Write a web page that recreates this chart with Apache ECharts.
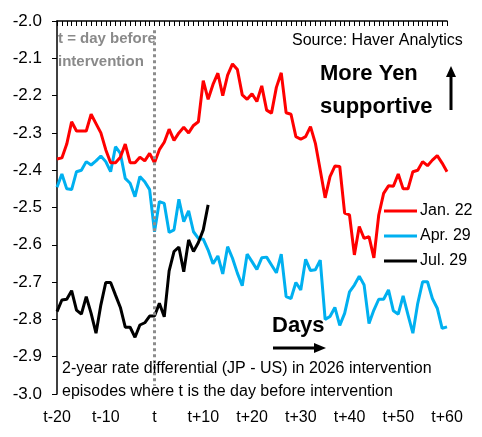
<!DOCTYPE html>
<html lang="en">
<head>
    <meta charset="UTF-8">
    <title>2-year rate differential around intervention</title>
    <script src="https://cdn.jsdelivr.net/npm/echarts@6/dist/echarts.min.js"></script>
    <style>
        html, body { margin: 0; padding: 0; background: #fff; }
        #chart { width: 482px; height: 437px; }
    </style>
</head>
<body>
    <div id="chart"></div>
    <script type="text/javascript">
        // days relative to t (day before intervention)
        var days = [];
        for (var d = -20; d <= 60; d++) days.push(d);

        // Jan. 22 episode, t-20 .. t+60
        var jan22 = [
            -2.370, -2.367, -2.330, -2.270, -2.295, -2.295, -2.295, -2.250, -2.275, -2.300,
            -2.345, -2.380, -2.380, -2.365, -2.330, -2.380, -2.380, -2.365, -2.375, -2.355,
            -2.380, -2.345, -2.325, -2.290, -2.320, -2.300, -2.285, -2.300, -2.280, -2.270,
            -2.160, -2.210, -2.170, -2.140, -2.200, -2.145, -2.115, -2.130, -2.198, -2.210,
            -2.195, -2.216, -2.174, -2.239, -2.247, -2.178, -2.139, -2.246, -2.250, -2.310,
            -2.317, -2.310, -2.283, -2.328, -2.400, -2.474, -2.417, -2.389, -2.390, -2.515,
            -2.520, -2.627, -2.551, -2.583, -2.578, -2.635, -2.520, -2.462, -2.442, -2.443,
            -2.410, -2.450, -2.450, -2.404, -2.400, -2.377, -2.388, -2.373, -2.361, -2.381,
            -2.404
        ];
        // Apr. 29 episode
        var apr29 = [
            -2.446, -2.410, -2.450, -2.452, -2.404, -2.400, -2.377, -2.386, -2.375, -2.362,
            -2.377, -2.404, -2.337, -2.355, -2.422, -2.435, -2.471, -2.417, -2.431, -2.452,
            -2.565, -2.484, -2.489, -2.567, -2.560, -2.478, -2.538, -2.509, -2.565, -2.583,
            -2.585, -2.614, -2.651, -2.630, -2.678, -2.605, -2.636, -2.676, -2.710, -2.625,
            -2.645, -2.666, -2.635, -2.633, -2.654, -2.675, -2.625, -2.739, -2.744, -2.701,
            -2.721, -2.639, -2.669, -2.667, -2.641, -2.800, -2.792, -2.768, -2.816, -2.784,
            -2.726, -2.708, -2.684, -2.708, -2.811, -2.775, -2.746, -2.746, -2.721, -2.777,
            -2.786, -2.737, -2.788, -2.837, -2.757, -2.699, -2.699, -2.744, -2.770, -2.824,
            -2.820
        ];
        // Jul. 29 episode, data up to 8/13 (t+11)
        var jul29 = [
            -2.779, -2.748, -2.746, -2.723, -2.775, -2.786, -2.739, -2.784, -2.837, -2.761,
            -2.701, -2.701, -2.735, -2.768, -2.821, -2.821, -2.848, -2.815, -2.809, -2.791,
            -2.791, -2.757, -2.793, -2.670, -2.618, -2.606, -2.672, -2.587, -2.618, -2.594,
            -2.560, -2.493
        ];
        var lastLabel = '8/13';

        function dayLabel(d) {
            d = Number(d);
            if (d === 0) return 't';
            return d > 0 ? 't+' + d : 't' + d;
        }

        var font = '"Liberation Sans", Arial, sans-serif';

        var julData = jul29.map(function (v, i) {
            if (i === jul29.length - 1) {
                return {
                    value: v,
                    label: {
                        show: true, formatter: lastLabel, position: 'top', distance: 4,
                        offset: [9, -1], fontSize: 17, fontWeight: 'bold',
                        color: '#000', fontFamily: font
                    }
                };
            }
            return v;
        });

        var myChart = echarts.init(document.getElementById('chart'));

        var option = {
            animation: false,
            backgroundColor: '#fff',
            textStyle: { fontFamily: font },
            grid: {
                left: 57, right: 35, top: 21, bottom: 43,
                containLabel: false, outerBoundsMode: 'none'
            },
            legend: {
                orient: 'vertical',
                left: 384, top: 203,
                padding: 0,
                itemGap: 9,
                icon: 'rect',
                itemWidth: 33, itemHeight: 3,
                textStyle: { fontSize: 16, color: '#000', fontFamily: font, padding: [0, 0, 0, -2] },
                data: ['Jan. 22', 'Apr. 29', 'Jul. 29']
            },
            xAxis: [
                {   // top axis: line and daily ticks
                    type: 'category',
                    position: 'top',
                    data: days,
                    boundaryGap: false,
                    axisLine: { lineStyle: { color: '#000', width: 1.5 } },
                    axisTick: { inside: true, length: 5, interval: 0, lineStyle: { color: '#000', width: 1 } },
                    axisLabel: { show: false },
                    splitLine: { show: false }
                },
                {   // bottom labels only
                    type: 'category',
                    position: 'bottom',
                    data: days,
                    boundaryGap: false,
                    axisLine: { show: false },
                    axisTick: { show: false },
                    axisLabel: {
                        interval: 9, margin: 16, fontSize: 16, color: '#000',
                        fontFamily: font, formatter: dayLabel
                    },
                    splitLine: { show: false }
                }
            ],
            yAxis: {
                type: 'value',
                min: -3, max: -2, interval: 0.1,
                axisLine: { show: true, lineStyle: { color: '#000', width: 1.5 } },
                axisTick: { show: true, length: 5, lineStyle: { color: '#000', width: 1 } },
                axisLabel: {
                    fontSize: 17, color: '#000', margin: 15, fontFamily: font,
                    formatter: function (v) { return v.toFixed(1); }
                },
                splitLine: { show: false }
            },
            series: [
                {
                    name: 'Jan. 22', type: 'line', xAxisIndex: 0, data: jan22,
                    showSymbol: false, symbol: 'none',
                    lineStyle: { color: '#ff0000', width: 3 },
                    itemStyle: { color: '#ff0000' },
                    z: 3,
                    markLine: {
                        silent: true, symbol: 'none',
                        label: { show: false },
                        lineStyle: { color: '#8c8c8c', width: 3, type: [3, 3] },
                        data: [[{ coord: ['0', -2.025] }, { coord: ['0', -2.978] }]]
                    }
                },
                {
                    name: 'Apr. 29', type: 'line', xAxisIndex: 0, data: apr29,
                    showSymbol: false, symbol: 'none',
                    lineStyle: { color: '#00b0f0', width: 3 },
                    itemStyle: { color: '#00b0f0' },
                    z: 2
                },
                {
                    name: 'Jul. 29', type: 'line', xAxisIndex: 0, data: julData,
                    showSymbol: false, symbol: 'none',
                    lineStyle: { color: '#000', width: 3 },
                    itemStyle: { color: '#000' },
                    z: 4
                }
            ],
            graphic: [
                { type: 'text', left: 58, top: 31, z: 10,
                  style: { text: 't = day before', fill: '#8a8a8a', font: 'bold 15px ' + font } },
                { type: 'text', left: 58, top: 54, z: 10,
                  style: { text: 'intervention', fill: '#8a8a8a', font: 'bold 15px ' + font } },
                { type: 'text', left: 292, top: 33, z: 10,
                  style: { text: 'Source: Haver Analytics', fill: '#000', font: '16px ' + font } },
                { type: 'text', left: 320, top: 63, z: 10,
                  style: { text: 'More Yen', fill: '#000', font: 'bold 22px ' + font } },
                { type: 'text', left: 320, top: 96, z: 10,
                  style: { text: 'supportive', fill: '#000', font: 'bold 22px ' + font } },
                // up arrow
                { type: 'line', z: 10, shape: { x1: 451, y1: 110, x2: 451, y2: 75 },
                  style: { stroke: '#000', lineWidth: 3 } },
                { type: 'polygon', z: 10, shape: { points: [[446, 77], [456, 77], [451, 66]] },
                  style: { fill: '#000' } },
                { type: 'text', left: 272, top: 315, z: 10,
                  style: { text: 'Days', fill: '#000', font: 'bold 22px ' + font } },
                // right arrow
                { type: 'line', z: 10, shape: { x1: 273, y1: 348, x2: 316, y2: 348 },
                  style: { stroke: '#000', lineWidth: 3 } },
                { type: 'polygon', z: 10, shape: { points: [[314, 343], [314, 353], [326, 348]] },
                  style: { fill: '#000' } },
                { type: 'text', left: 62, top: 361, z: 10,
                  style: { text: '2-year rate differential (JP - US) in 2026 intervention', fill: '#000', font: '16px ' + font } },
                { type: 'text', left: 62, top: 384, z: 10,
                  style: { text: 'episodes where t is the day before intervention', fill: '#000', font: '16px ' + font } }
            ]
        };
        myChart.setOption(option);
    </script>
</body>
</html>
